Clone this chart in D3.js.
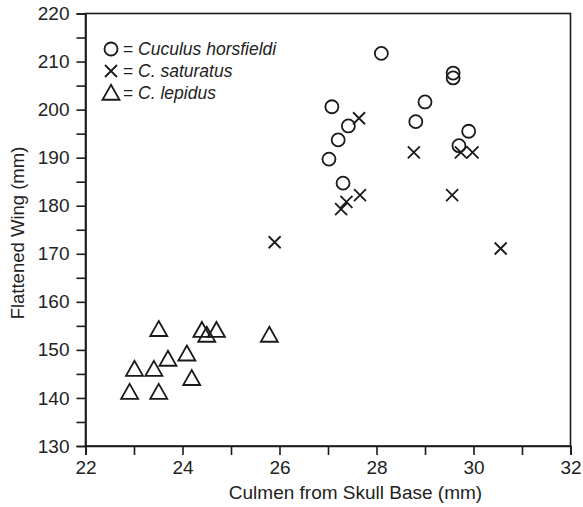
<!DOCTYPE html>
<html>
<head>
<meta charset="utf-8">
<script src="https://cdn.jsdelivr.net/npm/d3@7"></script>
<style>
  html, body { margin: 0; padding: 0; background: #fff; }
  svg { display: block; }
  text { font-family: "Liberation Sans", Arial, Helvetica, sans-serif; fill: #222; }
</style>
</head>
<body>
<svg id="chart" width="583" height="507"></svg>
<script>
// ---- data ----
const horsfieldiX = [28.1, 29.58, 29.58, 29.0, 28.81, 27.08, 27.42, 27.21, 27.02, 27.31, 29.9, 29.7];
const horsfieldiY = [211.7, 207.6, 206.6, 201.6, 197.5, 200.6, 196.6, 193.7, 189.7, 184.7, 195.5, 192.5];
const saturatusX = [27.64, 28.77, 29.74, 29.98, 27.66, 27.38, 27.27, 29.56, 30.56, 25.9];
const saturatusY = [198.2, 191.1, 191.1, 191.1, 182.2, 180.8, 179.3, 182.2, 171.1, 172.4];
const lepidusX = [23.51, 24.40, 24.70, 24.50, 25.79, 24.09, 23.70, 23.01, 23.41, 24.19, 22.91, 23.51];
const lepidusY = [154.3, 154.1, 154.1, 153.1, 153.1, 149.2, 148.1, 146.0, 146.0, 144.1, 141.2, 141.2];
const xTicks = [22, 23, 24, 25, 26, 27, 28, 29, 30, 31, 32];
const xTickLabels = ["22", "", "24", "", "26", "", "28", "", "30", "", "32"];
const yTicks = [130, 135, 140, 145, 150, 155, 160, 165, 170, 175, 180, 185, 190, 195, 200, 205, 210, 215, 220];
const yTickLabels = ["130", "", "140", "", "150", "", "160", "", "170", "", "180", "", "190", "", "200", "", "210", "", "220"];
const legendLabels = ["Cuculus horsfieldi", "C. saturatus", "C. lepidus"];
const xTitle = "Culmen from Skull Base (mm)";
const yTitle = "Flattened Wing (mm)";

// ---- layout ----
const svg = d3.select("#chart");
const L = 85.5, R = 570.5, T = 13.5, B = 446;
const x = d3.scaleLinear().domain([22, 32]).range([L, R]);
const y = d3.scaleLinear().domain([130, 220]).range([B, T]);
const ink = "#1a1a1a";

// frame
svg.append("rect").attr("x", L).attr("y", T).attr("width", R - L).attr("height", B - T)
  .attr("fill", "none").attr("stroke", ink).attr("stroke-width", 1.6);

// axes
const xAxis = d3.axisBottom(x).tickValues(xTicks)
  .tickFormat((d, i) => xTickLabels[i]).tickSize(9).tickPadding(6);
const gx = svg.append("g").attr("transform", `translate(0,${B})`).call(xAxis);
const yAxis = d3.axisLeft(y).tickValues(yTicks)
  .tickFormat((d, i) => yTickLabels[i]).tickSize(9).tickPadding(7);
const gy = svg.append("g").attr("transform", `translate(${L},0)`).call(yAxis);
[gx, gy].forEach(g => {
  g.select(".domain").attr("stroke", ink).attr("stroke-width", 1.6);
  g.selectAll(".tick line").attr("stroke", ink).attr("stroke-width", 1.6);
  g.selectAll(".tick text").attr("font-size", 19).attr("font-family", "Liberation Sans, Arial, sans-serif").attr("fill", "#222");
});

// titles
svg.append("text").attr("x", 355.5).attr("y", 499).attr("text-anchor", "middle")
  .attr("font-size", 19).text(xTitle);
svg.append("text").attr("transform", `translate(24,233) rotate(-90)`)
  .attr("text-anchor", "middle").attr("font-size", 18.5).text(yTitle);

// markers
const sw = 1.8;
const circ = svg.append("g");
horsfieldiX.forEach((v, i) => {
  circ.append("circle").attr("cx", x(v)).attr("cy", y(horsfieldiY[i])).attr("r", 6.5)
    .attr("fill", "none").attr("stroke", ink).attr("stroke-width", sw);
});
const crossPath = (cx, cy, s) => `M${cx - s},${cy - s}L${cx + s},${cy + s}M${cx - s},${cy + s}L${cx + s},${cy - s}`;
const triPath = (cx, cy, w, h) => `M${cx},${cy - h * 0.55}L${cx + w / 2},${cy + h * 0.45}L${cx - w / 2},${cy + h * 0.45}Z`;
const crosses = svg.append("g");
saturatusX.forEach((v, i) => {
  crosses.append("path").attr("d", crossPath(x(v), y(saturatusY[i]), 6))
    .attr("fill", "none").attr("stroke", ink).attr("stroke-width", sw);
});
const tris = svg.append("g");
lepidusX.forEach((v, i) => {
  tris.append("path").attr("d", triPath(x(v), y(lepidusY[i]), 17, 15))
    .attr("fill", "none").attr("stroke", ink).attr("stroke-width", sw).attr("stroke-linejoin", "miter");
});

// legend
const legY = [49, 71, 93];
const lg = svg.append("g");
lg.append("circle").attr("cx", 111).attr("cy", legY[0]).attr("r", 6.5)
  .attr("fill", "none").attr("stroke", ink).attr("stroke-width", sw);
lg.append("path").attr("d", crossPath(111, legY[1], 6)).attr("fill", "none").attr("stroke", ink).attr("stroke-width", sw);
lg.append("path").attr("d", triPath(111, legY[2], 17, 15)).attr("fill", "none").attr("stroke", ink).attr("stroke-width", sw);
legendLabels.forEach((t, i) => {
  const tx = lg.append("text").attr("x", 123).attr("y", legY[i] + 6).attr("font-size", 17.5);
  tx.append("tspan").text("= ");
  tx.append("tspan").attr("font-style", "italic").text(t);
});
</script>
</body>
</html>
